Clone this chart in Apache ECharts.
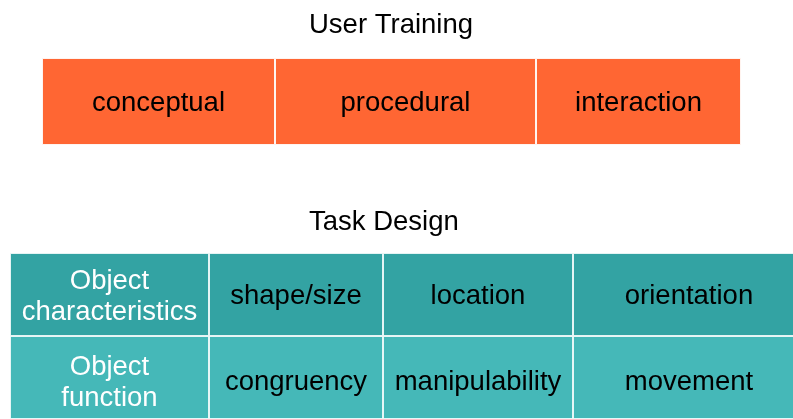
<!DOCTYPE html>
<html><head><meta charset="utf-8">
<script src="https://cdn.jsdelivr.net/npm/echarts@6/dist/echarts.min.js"></script>
<style>html,body{margin:0;padding:0;background:#fff}#c{width:793px;height:419px}</style>
</head><body><div id="c"></div>
<script>
// Top block: User Training (one row, three cells, widths in diagram units)
const trainingTitle = 'User Training';
const trainingLabels = ['conceptual', 'procedural', 'interaction'];
const trainingWidths = [233, 261, 205];

// Bottom block: Task Design (two rows, four cells each)
const designTitle = 'Task Design';
const designRows = ['row1', 'row2'];
const designLabels = [
  ['Object\ncharacteristics', 'shape/size', 'location', 'orientation'],
  ['Object\nfunction', 'congruency', 'manipulability', 'movement']
];
const designWidths = [199, 174, 190, 232];

const orange = '#ff6633';
const rowColors = ['#33a3a3', '#45b8b8'];
const font = 'Liberation Sans, Arial, sans-serif';
const FS = 27.5;
const sum = a => a.reduce((s, v) => s + v, 0);
const visibleDesign = 783; // part of the table inside the page

const series = [];
trainingLabels.forEach((lab, i) => {
  series.push({
    type: 'bar', stack: 'top', xAxisIndex: 0, yAxisIndex: 0,
    barCategoryGap: 0, silent: true, clip: false,
    itemStyle: { color: orange, borderColor: 'rgba(255,255,255,0.85)', borderWidth: 1 },
    label: { show: true, position: 'inside', formatter: lab, color: '#000', fontSize: FS, fontFamily: font, offset: [0, 2] },
    data: [trainingWidths[i]]
  });
});
designWidths.forEach((w, col) => {
  series.push({
    type: 'bar', stack: 'bottom', xAxisIndex: 1, yAxisIndex: 1,
    barCategoryGap: 0, silent: true, clip: false,
    data: designRows.map((r, row) => ({
      value: w,
      itemStyle: { color: rowColors[row], borderColor: 'rgba(255,255,255,0.75)', borderWidth: 1 },
      label: {
        show: true, position: 'inside', formatter: designLabels[row][col],
        color: col === 0 ? '#fff' : '#000', fontSize: FS, lineHeight: 31, fontFamily: font,
        offset: [0, row === 0 ? 2 : 5]
      }
    }))
  });
});

const chart = echarts.init(document.getElementById('c'));
chart.setOption({
  animation: false,
  backgroundColor: '#fff',
  title: [
    { text: trainingTitle, left: 304, top: 6,
      textStyle: { fontSize: FS, fontWeight: 'normal', color: '#000', fontFamily: font } },
    { text: designTitle, left: 304, top: 203,
      textStyle: { fontSize: FS, fontWeight: 'normal', color: '#000', fontFamily: font } }
  ],
  grid: [
    { left: 42, top: 58, width: 699, height: 87 },
    { left: 10, top: 253, width: visibleDesign, height: 168 }
  ],
  xAxis: [
    { type: 'value', gridIndex: 0, min: 0, max: sum(trainingWidths), show: false },
    { type: 'value', gridIndex: 1, min: 0, max: visibleDesign, show: false }
  ],
  yAxis: [
    { type: 'category', gridIndex: 0, data: ['training'], show: false },
    { type: 'category', gridIndex: 1, data: designRows, inverse: true, show: false }
  ],
  series: series
});
</script></body></html>
